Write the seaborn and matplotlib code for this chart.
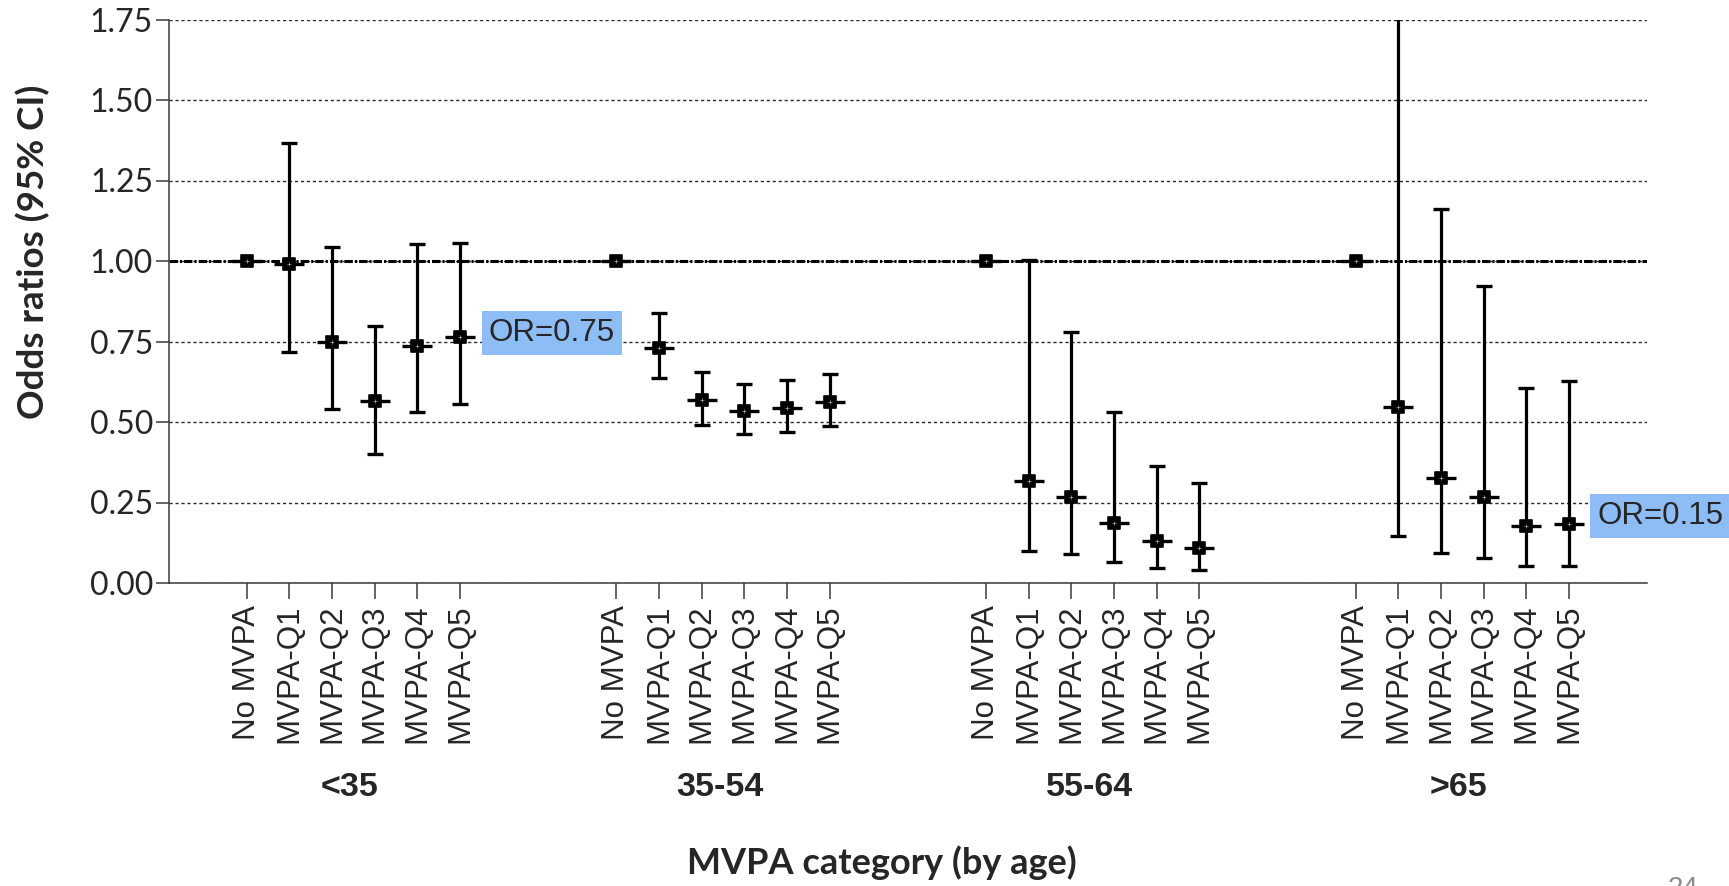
import numpy as np
import pandas as pd
import matplotlib
matplotlib.use("Agg")
import matplotlib.pyplot as plt
import seaborn as sns

# ---------------- data ----------------
groups = ["<35", "35-54", "55-64", ">65"]
categories = ["No MVPA", "MVPA-Q1", "MVPA-Q2", "MVPA-Q3", "MVPA-Q4", "MVPA-Q5"]

or_lt35 = [1.00, 0.99, 0.75, 0.565, 0.735, 0.765]
lo_lt35 = [np.nan, 0.717, 0.541, 0.402, 0.531, 0.556]
hi_lt35 = [np.nan, 1.365, 1.045, 0.797, 1.052, 1.055]

or_35_54 = [1.00, 0.73, 0.567, 0.535, 0.545, 0.562]
lo_35_54 = [np.nan, 0.636, 0.492, 0.463, 0.470, 0.489]
hi_35_54 = [np.nan, 0.840, 0.655, 0.618, 0.631, 0.650]

or_55_64 = [1.00, 0.317, 0.266, 0.186, 0.129, 0.110]
lo_55_64 = [np.nan, 0.100, 0.091, 0.065, 0.047, 0.041]
hi_55_64 = [np.nan, 1.002, 0.778, 0.531, 0.364, 0.310]

or_gt65 = [1.00, 0.547, 0.327, 0.268, 0.177, 0.184]
lo_gt65 = [np.nan, 0.145, 0.093, 0.078, 0.053, 0.053]
hi_gt65 = [np.nan, 1.85, 1.163, 0.923, 0.606, 0.627]

yticks = [0.00, 0.25, 0.50, 0.75, 1.00, 1.25, 1.50, 1.75]
annot_texts = ["OR=0.75", "OR=0.15"]

# ---------------- build frame ----------------
or_all = [or_lt35, or_35_54, or_55_64, or_gt65]
lo_all = [lo_lt35, lo_35_54, lo_55_64, lo_gt65]
hi_all = [hi_lt35, hi_35_54, hi_55_64, hi_gt65]
GROUP_STEP = 8.66
rows = []
for g, grp in enumerate(groups):
    for j, cat in enumerate(categories):
        rows.append(dict(group=grp, category=cat, x=g * GROUP_STEP + j,
                         OR=or_all[g][j], lo=lo_all[g][j], hi=hi_all[g][j]))
df = pd.DataFrame(rows)

# ---------------- style ----------------
sns.set_theme(style="white")
plt.rcParams["lines.scale_dashes"] = False
plt.rcParams["font.family"] = ["Liberation Sans", "DejaVu Sans"]

W, H = 1729, 886
fig = plt.figure(figsize=(W / 100, H / 100), dpi=100)
ax_l, ax_r = 169 / W, 1646.7 / W
ax_b, ax_t = 1 - 583 / H, 1 - 19.5 / H
ax = fig.add_axes([ax_l, ax_b, ax_r - ax_l, ax_t - ax_b])

# grid
ax.set_ylim(0, 1.75)
xmin, xmax = -1.82, 3 * GROUP_STEP + 5 + 1.82
ax.set_xlim(xmin, xmax)
ax.set_yticks(yticks)
ax.yaxis.grid(True, linestyle=(0, (2.3, 2.0)), linewidth=1.0, color="#2a2a2a")
ax.xaxis.grid(False)
ax.set_axisbelow(True)
ax.axhline(1.0, linestyle=(0, (6.0, 1.5, 1.5, 1.5)), linewidth=2.2, color="black", zorder=1.5)

# error bars
ci = df.dropna(subset=["lo", "hi"])
ax.errorbar(ci["x"], ci["OR"], yerr=[ci["OR"] - ci["lo"], ci["hi"] - ci["OR"]],
            fmt="none", ecolor="black", elinewidth=2.3, capsize=6.0, capthick=2.4, zorder=3)

# horizontal ticks through points
sns.scatterplot(data=df, x="x", y="OR", marker="_", s=480, linewidth=2.4,
                color="black", ax=ax, zorder=4, legend=False)
# square markers
sns.scatterplot(data=df, x="x", y="OR", marker="s", s=78, color="black",
                edgecolor="black", linewidth=1.2, ax=ax, zorder=5, legend=False)
sns.scatterplot(data=df, x="x", y="OR", marker="+", s=9, color="#aaaaaa",
                linewidth=0.5, ax=ax, zorder=6, legend=False)

# spines and ticks
sns.despine(ax=ax, top=True, right=True)
for s in ["left", "bottom"]:
    ax.spines[s].set_color("#3a3a3a")
    ax.spines[s].set_linewidth(1.1)
ax.set_xticks(df["x"])
ax.set_xticklabels(df["category"], rotation=90, fontsize=22.5,
                   family=["Liberation Sans", "DejaVu Sans"])
ax.set_yticklabels([f"{v:.2f}" for v in yticks], fontsize=23, family=["Lato", "DejaVu Sans"])
ax.tick_params(axis="x", length=11.5, width=1.1, color="#3a3a3a", pad=4, bottom=True)
ax.tick_params(axis="y", length=9.5, width=1.1, color="#3a3a3a", pad=2, left=True)
ax.set_xlabel("")
ax.set_ylabel("")

# group labels
for g, grp in enumerate(groups):
    xc = g * GROUP_STEP + 2.5
    xf = ax.transData.transform((xc, 0))[0] / W
    fig.text(xf - 0.002, 1 - 788 / H, grp, ha="center", va="center",
             fontsize=24.5, fontweight="bold", family=["Liberation Sans", "DejaVu Sans"])

# axis labels
fig.text(882 / W, 1 - 863 / H, "MVPA category (by age)", ha="center", va="center",
         fontsize=26, fontweight="bold", family=["Lato", "DejaVu Sans"])
fig.text(33 / W, 1 - 252 / H, "Odds ratios (95% CI)", ha="center", va="center",
         rotation=90, fontsize=26.5, fontweight="bold", family=["Lato", "DejaVu Sans"])

# annotations
box = dict(boxstyle="square,pad=0.22", facecolor="#8EBCF5", edgecolor="none")
ax.text(7.15, 0.776, annot_texts[0], ha="center", va="center", fontsize=22.5,
        bbox=box, zorder=7, family=["Liberation Sans", "DejaVu Sans"])
ax.text(33.12, 0.207, annot_texts[1], ha="center", va="center", fontsize=22.5,
        bbox=box, zorder=7, clip_on=False, family=["Liberation Sans", "DejaVu Sans"])

# page number (cut off at bottom, as in the source slide)
fig.text(1668 / W, 1 - 876 / H, "24", ha="left", va="top", fontsize=20, color="#8c8c8c")

fig.savefig("out.png", dpi=100)
